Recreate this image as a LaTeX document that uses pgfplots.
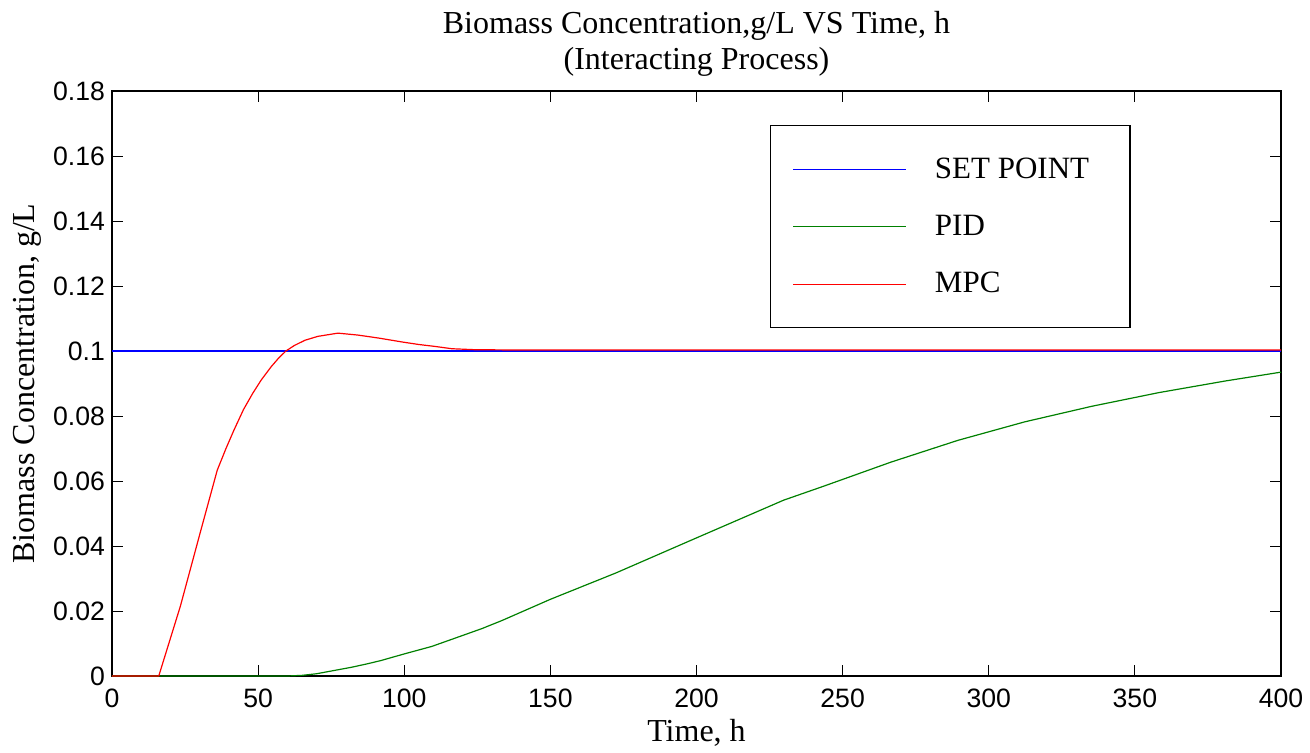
\documentclass[border=0pt]{standalone}
\usepackage{pgfplots}
\pgfplotsset{compat=1.18}
\usepackage{fontspec}
\setmainfont{Liberation Serif}
\setsansfont{Liberation Sans}
\definecolor{pidgreen}{RGB}{0,128,0}
\definecolor{mpcred}{RGB}{255,0,0}
\definecolor{setblue}{RGB}{0,0,255}
\begin{document}
\begin{tikzpicture}
\begin{axis}[
  scale only axis,
  width=584.5pt, height=292.5pt,
  xmin=0, xmax=400, ymin=0, ymax=0.18,
  xtick={0,50,...,400},
  ytick={0,0.02,0.04,0.06,0.08,0.1,0.12,0.14,0.16,0.18},
  yticklabels={0,0.02,0.04,0.06,0.08,0.1,0.12,0.14,0.16,0.18},
  scaled y ticks=false,
  tick align=inside,
  major tick length=5.5pt,
  every tick/.style={black, line width=0.5pt},
  axis line style={line width=0.6pt, black},
  /pgf/number format/assume math mode=true,
  ticklabel style={font=\sffamily\fontsize{13.3}{15}\selectfont},
  xticklabel style={yshift=-3pt},
  title={Biomass Concentration,g/L VS Time, h\\(Interacting Process)},
  title style={align=center, font=\fontsize{16}{18}\selectfont, yshift=-2pt},
  xlabel={Time, h},
  ylabel={Biomass Concentration, g/L},
  label style={font=\fontsize{16}{18}\selectfont},
  xlabel style={yshift=1pt},
  ylabel style={yshift=-1pt},
  legend cell align=left,
  legend image code/.code={\draw[#1] (0pt,0pt) -- (56.5pt,0pt);},
  legend style={at={(0.563,0.942)}, anchor=north west, draw=black, line width=0.6pt,
    inner xsep=11pt, inner ysep=14pt, row sep=13pt, column sep=12pt,
    font=\fontsize{15.5}{18}\selectfont},
]
\addplot[color=setblue, line width=0.6pt] coordinates {(0,0.1) (400,0.1)};
\addlegendentry{\makebox[84.5pt][l]{SET POINT}}
\addplot[color=pidgreen, line width=0.6pt] coordinates {
(0,0) (60,0) (65,0.0002) (70,0.0007) (76,0.0017) (82,0.0027) (87.6,0.0038)
(92.2,0.0048) (100,0.0068) (109.4,0.0091) (116.3,0.0113) (126.6,0.0146)
(133.5,0.0171) (150,0.0236) (172.4,0.0317) (200,0.0425) (229.8,0.0541)
(243.5,0.0584) (266.5,0.0658) (289.4,0.0725) (312.3,0.0782) (335.3,0.0830)
(358.2,0.0872) (381.1,0.0908) (400,0.0935)};
\addlegendentry{PID}
\addplot[color=mpcred, line width=0.6pt] coordinates {
(0,0) (16,0) (23.4,0.0215) (30.3,0.0445) (33,0.0534) (36,0.0633) (39,0.0700)
(41.7,0.0756) (45,0.0820) (48.1,0.0869) (51,0.0910) (54.4,0.0951) (57,0.0978)
(59.5,0.1000) (62.4,0.1017) (66,0.1033) (70.4,0.1045) (77.3,0.1055)
(84.2,0.1049) (91.1,0.1040) (99.1,0.1028) (105,0.1020) (110.6,0.1014)
(116.3,0.1007) (124.3,0.1004) (140,0.1003) (400,0.1003)};
\addlegendentry{MPC}
\coordinate (SW) at (rel axis cs:0,0);
\coordinate (NE) at (rel axis cs:1,1);
\end{axis}
\pgfresetboundingbox
\path[use as bounding box] ([xshift=-56pt,yshift=-38pt]SW) rectangle ([xshift=14.5pt,yshift=45.5pt]NE);
\end{tikzpicture}
\end{document}
